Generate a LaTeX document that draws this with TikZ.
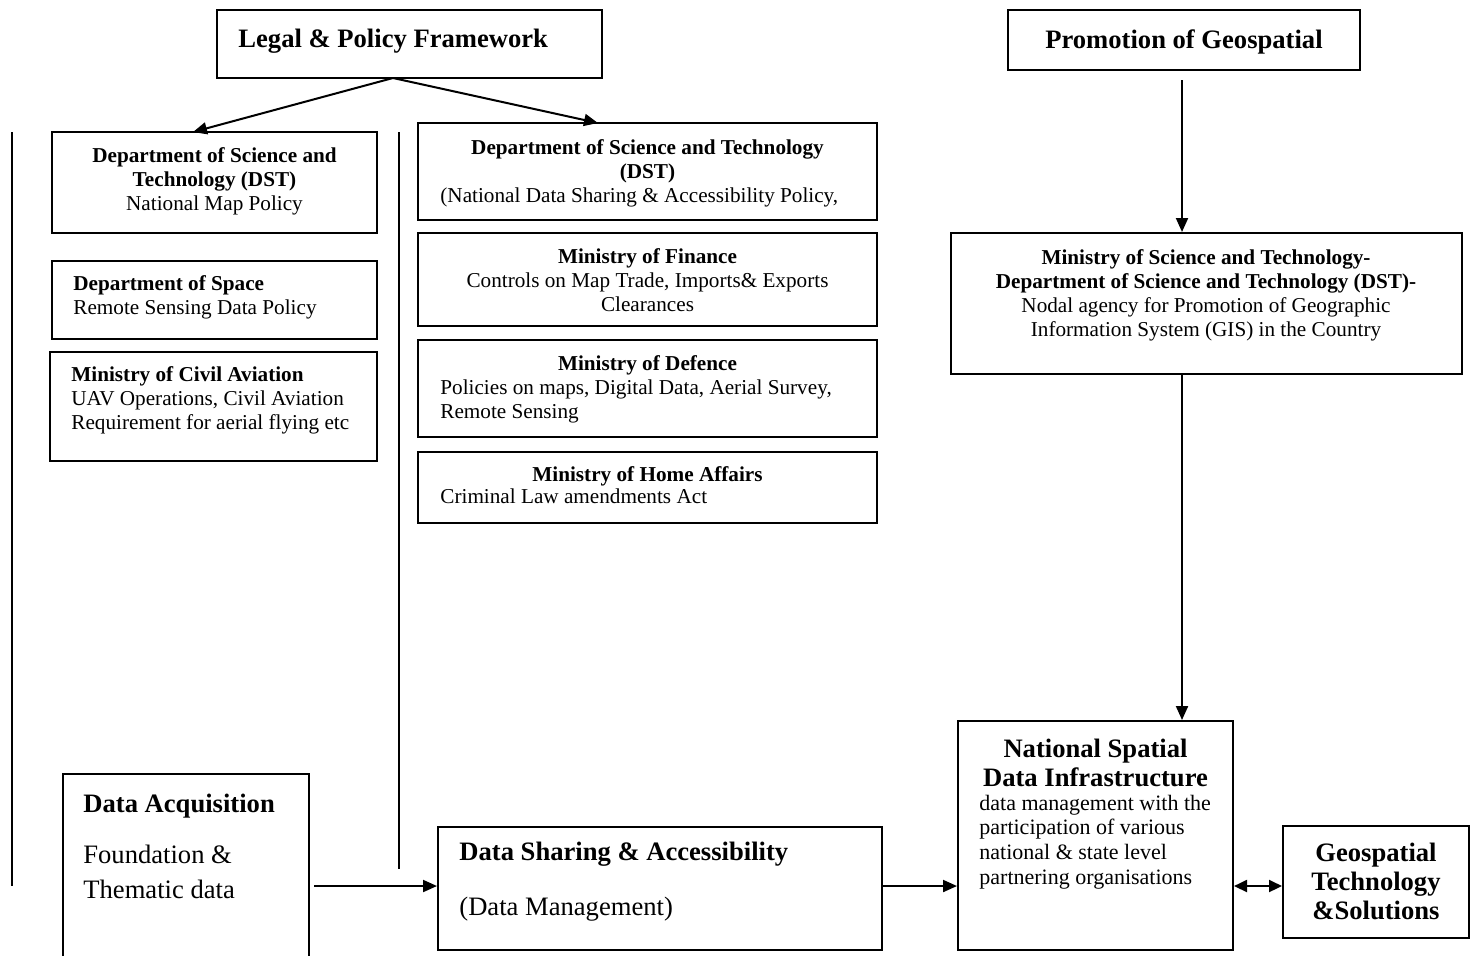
\documentclass[tikz,border=0pt]{standalone}
\usepackage{fontspec}
\setmainfont{Liberation Serif}
\usepackage{tikz}
\usetikzlibrary{fit, positioning, arrows.meta}
\newcommand\tightlines{\lineskiplimit=-8pt\relax}

\begin{document}
\begin{tikzpicture}[x=0.5pt, y=-0.5pt,
  box/.style={draw, line width=1pt, inner sep=0pt},
  head/.style={inner sep=0pt, font={\fontsize{13.3}{14.5}\selectfont\bfseries\tightlines}},
  big/.style={inner sep=0pt, font={\fontsize{13.3}{17.5}\selectfont}},
  small/.style={inner sep=0pt, font={\fontsize{10.6}{11.9}\selectfont\tightlines}},
  arr/.style={line width=1pt, -{Triangle[length=7pt,width=6pt]}},
  dblarr/.style={line width=1pt, {Triangle[length=6.5pt,width=6pt]}-{Triangle[length=6.5pt,width=6pt]}}]
\useasboundingbox[fill=white] (0,0) rectangle (1475,955);

% top headings
\node[box, fit={(217,10) (602,78)}] (legal) {};
\node[head, anchor=base west] (legalt) at (238,47) {Legal \& Policy Framework};
\node[box, fit={(1008,10) (1360,70)}] (prom) {};
\node[head, anchor=base] (promt) at (1184,48) {Promotion of Geospatial};

% left column (multi-line texts sit on their last baseline)
\node[box, fit={(52,132) (377,233)}] (ldst) {};
\node[small, anchor=base, align=center] (ldstt) at (214.5,210)
  {\textbf{Department of Science and}\\\textbf{Technology (DST)}\\National Map Policy};
\node[box, fit={(52,261) (377,339)}] (space) {};
\node[small, anchor=base west, align=left] (spacet) at (73,314)
  {\textbf{Department of Space}\\Remote Sensing Data Policy};
\node[box, fit={(50,352) (377,461)}] (civil) {};
\node[small, anchor=base west, align=left] (civilt) at (71,429)
  {\textbf{Ministry of Civil Aviation}\\UAV Operations, Civil Aviation\\Requirement for aerial flying etc};

% middle column
\node[box, fit={(418,123) (877,220)}] (rdst) {};
\node[small, anchor=base, align=center] (rdstt) at (647.5,178)
  {\textbf{Department of Science and Technology}\\\textbf{(DST)}};
\node[small, anchor=base west] (rdstb) at (440,202) {(National Data Sharing \& Accessibility Policy,};
\node[box, fit={(418,233) (877,326)}] (fin) {};
\node[small, anchor=base, align=center] (fint) at (647.5,311)
  {\textbf{Ministry of Finance}\\Controls on Map Trade, Imports\& Exports\\Clearances};
\node[box, fit={(418,340) (877,437)}] (def) {};
\node[small, anchor=base] (deft) at (647.5,370) {\textbf{Ministry of Defence}};
\node[small, anchor=base west, align=left] (defb) at (440,418)
  {Policies on maps, Digital Data, Aerial Survey,\\Remote Sensing};
\node[box, fit={(418,452) (877,523)}] (home) {};
\node[small, anchor=base] (homet) at (647.5,481) {\textbf{Ministry of Home Affairs}};
\node[small, anchor=base west] (homeb) at (440,503) {Criminal Law amendments Act};

% right column
\node[box, fit={(951,233) (1462,374)}] (msdst) {};
\node[small, anchor=base, align=center] (msdstt) at (1206,336)
  {\textbf{Ministry of Science and Technology-}\\\textbf{Department of Science and Technology (DST)-}\\Nodal agency for Promotion of Geographic\\Information System (GIS) in the Country};

% bottom row
\node[box, fit={(63,774) (309,985)}] (acq) {};
\node[head, anchor=base west] (acqt) at (83,812) {Data Acquisition};
\node[big, anchor=base west, align=left] (acqb) at (83,898) {Foundation \&\\Thematic data};
\node[box, fit={(438,827) (882,950)}] (share) {};
\node[head, anchor=base west] (sharet) at (459,860) {Data Sharing \& Accessibility};
\node[big, anchor=base west] (shareb) at (459,915) {(Data Management)};
\node[box, fit={(958,721) (1233,950)}] (nsdi) {};
\node[head, anchor=base, align=center] (nsdit) at (1095.5,786) {National Spatial\\Data Infrastructure};
\node[inner sep=0pt, anchor=base west, align=left, font={\fontsize{11}{12.3}\selectfont}] (nsdib) at (979,884)
  {data management with the\\participation of various\\national \& state level\\partnering organisations};
\node[box, fit={(1283,826) (1469,938)}] (geo) {};
\node[head, anchor=base, align=center] (geot) at (1376,919)
  {Geospatial\\Technology\\\&Solutions};

% side rules
\draw[line width=1pt] (12,132) -- (12,886);
\draw[line width=1pt] (399,132) -- (399,869);

% connectors
\coordinate (fork) at (393,78);
\coordinate (ldstin) at (193,132);
\coordinate (rdstin) at (598,123);
\draw[arr] (fork) -- (ldstin);
\draw[arr] (fork) -- (rdstin);
\coordinate (promout) at (1182,80);
\draw[arr] (promout) -- (promout |- msdst.north);
\draw[arr] (msdst.south -| promout) -- (nsdi.north -| promout);
\coordinate (acqout) at (314,886);
\draw[arr] (acqout) -- (acqout -| share.west);
\draw[arr] (share.east |- acqout) -- (nsdi.west |- acqout);
\draw[dblarr] (nsdi.east |- acqout) -- (geo.west |- acqout);
\end{tikzpicture}
\end{document}
